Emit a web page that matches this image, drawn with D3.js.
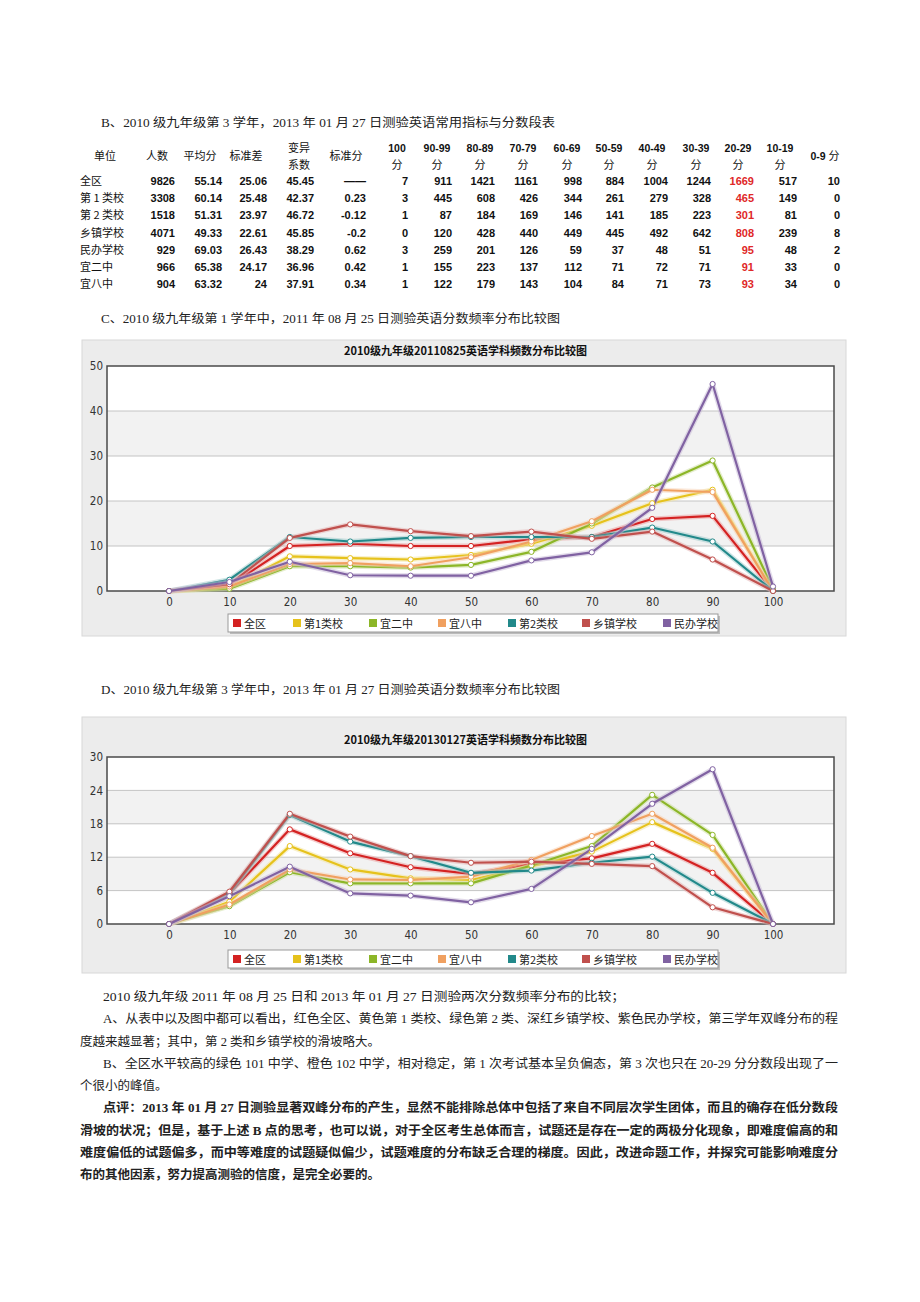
<!DOCTYPE html>
<html><head><meta charset="utf-8">
<script src="https://cdn.jsdelivr.net/npm/d3@7"></script>
<style>
html,body{margin:0;padding:0;background:#fff;}
svg{display:block;}
</style></head>
<body>
<script>
// ---------------- DATA ----------------
const tableHeadTop = ["单位","人数","平均分","标准差","变异","标准分","100","90-99","80-89","70-79","60-69","50-59","40-49","30-39","20-29","10-19","0-9 分"];
const tableHeadBottom = ["","","","","系数","","分","分","分","分","分","分","分","分","分","分",""];
const tableUnits = ["全区","第 1 类校","第 2 类校","乡镇学校","民办学校","宜二中","宜八中"];
const rowQuanqu   = ["9826","55.14","25.06","45.45","——","7","911","1421","1161","998","884","1004","1244","1669","517","10"];
const rowLei1     = ["3308","60.14","25.48","42.37","0.23","3","445","608","426","344","261","279","328","465","149","0"];
const rowLei2     = ["1518","51.31","23.97","46.72","-0.12","1","87","184","169","146","141","185","223","301","81","0"];
const rowXiangzhen= ["4071","49.33","22.61","45.85","-0.2","0","120","428","440","449","445","492","642","808","239","8"];
const rowMinban   = ["929","69.03","26.43","38.29","0.62","3","259","201","126","59","37","48","51","95","48","2"];
const rowYi2      = ["966","65.38","24.17","36.96","0.42","1","155","223","137","112","71","72","71","91","33","0"];
const rowYi8      = ["904","63.32","24","37.91","0.34","1","122","179","143","104","84","71","73","93","34","0"];

const scores = [0,10,20,30,40,50,60,70,80,90,100];
const seriesNames = ["全区","第1类校","宜二中","宜八中","第2类校","乡镇学校","民办学校"];
const seriesColors = ["#d42222","#e6c21c","#8cb628","#f0a060","#22898a","#c0504d","#8062a2"];

// chart 1: 20110825
const c1Quanqu    = [0,1.2,10,10.5,10,10,11.5,12,16,16.7,0];
const c1Lei1      = [0,0.8,7.7,7.3,7,8,10.5,14.5,19.5,22.5,0];
const c1Yi2       = [0,0.5,5.5,5.5,5.2,5.8,8.7,15,23,29,0.5];
const c1Yi8       = [0,1,6,6.2,5.5,7.5,11,15.5,22.5,22,0];
const c1Lei2      = [0,2.5,12,11,11.8,12,12,12,14.1,11,0];
const c1Xiangzhen = [0,1.5,11.8,14.8,13.3,12.2,13.2,11.6,13.2,7,0];
const c1Minban    = [0,2,6.5,3.5,3.4,3.4,6.8,8.6,18.5,46,1];
const c1Ticks = [0,10,20,30,40,50];

// chart 2: 20130127
const c2Quanqu    = [0,5.5,17,12.7,10.2,9,10.8,11.8,14.4,9.2,0];
const c2Lei1      = [0,4,14,9.8,8.2,7.9,10.4,13,18.3,13.5,0];
const c2Yi2       = [0,3.2,9.3,7.3,7.3,7.3,10.5,14,23.2,16,0];
const c2Yi8       = [0,3.5,9.8,8,7.9,8.5,11.5,15.8,19.8,13.7,0];
const c2Lei2      = [0,5.5,19.6,14.8,12.2,9.2,9.6,11,12.1,5.6,0];
const c2Xiangzhen = [0,5.8,19.8,15.7,12.2,11,11.2,10.8,10.4,3,0];
const c2Minban    = [0,5,10.3,5.5,5.1,3.9,6.3,13.5,21.6,27.8,0];
const c2Ticks = [0,6,12,18,24,30];

const chart1Title = "2010级九年级20110825英语学科频数分布比较图";
const chart2Title = "2010级九年级20130127英语学科频数分布比较图";

const headingB = "B、2010 级九年级第 3 学年，2013 年 01 月 27 日测验英语常用指标与分数段表";
const headingC = "C、2010 级九年级第 1 学年中，2011 年 08 月 25 日测验英语分数频率分布比较图";
const headingD = "D、2010 级九年级第 3 学年中，2013 年 01 月 27 日测验英语分数频率分布比较图";
const paraLines = [
  "2010 级九年级 2011 年 08 月 25 日和 2013 年 01 月 27 日测验两次分数频率分布的比较；",
  "A、从表中以及图中都可以看出，红色全区、黄色第 1 类校、绿色第 2 类、深红乡镇学校、紫色民办学校，第三学年双峰分布的程",
  "度越来越显著；其中，第 2 类和乡镇学校的滑坡略大。",
  "B、全区水平较高的绿色 101 中学、橙色 102 中学，相对稳定，第 1 次考试基本呈负偏态，第 3 次也只在 20-29 分分数段出现了一",
  "个很小的峰值。",
  "点评：2013 年 01 月 27 日测验显著双峰分布的产生，显然不能排除总体中包括了来自不同层次学生团体，而且的确存在低分数段",
  "滑坡的状况；但是，基于上述 B 点的思考，也可以说，对于全区考生总体而言，试题还是存在一定的两极分化现象，即难度偏高的和",
  "难度偏低的试题偏多，而中等难度的试题疑似偏少，试题难度的分布缺乏合理的梯度。因此，改进命题工作，并探究可能影响难度分",
  "布的其他因素，努力提高测验的信度，是完全必要的。"
];

// ---------------- DRAW ----------------
const W = 920, H = 1302;
const svg = d3.select("body").append("svg").attr("width", W).attr("height", H);
svg.append("rect").attr("width", W).attr("height", H).attr("fill", "#fff");

const serif = "'Liberation Serif','Noto Sans CJK SC',serif";
const cjk = "'Noto Sans CJK SC','Liberation Sans',sans-serif";
const bold = "'Liberation Sans',Arial,sans-serif";
const narrow = "'Liberation Sans Narrow','Arial Narrow','DejaVu Sans Condensed',sans-serif";

function heading(txt, x, y, len) {
  svg.append("text").attr("x", x).attr("y", y).attr("font-family", serif)
    .attr("font-size", 12).attr("fill", "#222")
    .attr("textLength", len).attr("lengthAdjust", "spacingAndGlyphs").text(txt);
}
heading(headingB, 101, 127, 454);
heading(headingC, 101, 323, 459);
heading(headingD, 101, 694, 459);

// ---- table ----
const colIdx = d3.range(tableHeadTop.length);
const colCenter = d3.scaleOrdinal().domain(colIdx)
  .range([105,157,200,246,299,346,397,437,480,523,567,609,652,696,738,780,825]);
const colRight = d3.scaleOrdinal().domain(colIdx)
  .range([80,175,222,267,314,366,408,452,495,538,582,624,668,711,754,797,840]);
const rows = [rowQuanqu,rowLei1,rowLei2,rowXiangzhen,rowMinban,rowYi2,rowYi8];
const rowY = d3.scalePoint().domain(tableUnits).range([185, 288]);

const thead = svg.append("g");
colIdx.forEach(i => {
  const top = tableHeadTop[i], bot = tableHeadBottom[i];
  const isNum = /^[0-9]/.test(top);
  const fam = isNum ? bold : cjk;
  if (bot) {
    thead.append("text").attr("x", colCenter(i)).attr("y", 152).attr("text-anchor", "middle")
      .attr("font-family", fam).attr("font-weight", isNum ? "bold" : "normal")
      .attr("font-size", isNum ? 10.5 : 11).attr("fill", "#111").text(top);
    thead.append("text").attr("x", colCenter(i)).attr("y", 169).attr("text-anchor", "middle")
      .attr("font-family", cjk).attr("font-size", 11).attr("fill", "#111").text(bot);
  } else {
    const t = thead.append("text").attr("x", colCenter(i)).attr("y", 160).attr("text-anchor", "middle")
      .attr("font-family", cjk).attr("font-size", 11).attr("fill", "#111");
    if (isNum) {
      const m = top.split(" ");
      t.append("tspan").attr("font-family", bold).attr("font-weight", "bold").attr("font-size", 10.5).text(m[0] + " ");
      t.append("tspan").text(m[1]);
    } else t.text(top);
  }
});
const tbody = svg.append("g");
tableUnits.forEach((u, r) => {
  tbody.append("text").attr("x", colRight(0)).attr("y", rowY(u))
    .attr("font-family", cjk).attr("font-size", 11).attr("fill", "#111").text(u);
  rows[r].forEach((v, j) => {
    const i = j + 1;
    tbody.append("text").attr("x", colRight(i)).attr("y", rowY(u)).attr("text-anchor", "end")
      .attr("font-family", bold).attr("font-weight", "bold").attr("font-size", 11)
      .attr("fill", i === 14 ? "#e02828" : "#111").text(v);
  });
});

// ---- charts ----
function drawChart(opts) {
  const g = svg.append("g");
  const {bx, by, bw, bh, pTop, pBot, pLeft, pRight, ticks, series, title, titleY, legY} = opts;
  g.append("rect").attr("x", bx).attr("y", by).attr("width", bw).attr("height", bh)
    .attr("fill", "#ececec").attr("stroke", "#d8d8d8");
  g.append("text").attr("x", (pLeft + pRight) / 2 - 5).attr("y", titleY).attr("text-anchor", "middle")
    .attr("font-family", cjk).attr("font-weight", "bold").attr("font-size", 11).attr("fill", "#111").text(title);

  const x = d3.scaleLinear().domain([0, 100]).range([169, 773]);
  const y = d3.scaleLinear().domain([0, d3.max(ticks)]).range([pBot, pTop]);

  g.append("rect").attr("x", pLeft).attr("y", pTop).attr("width", pRight - pLeft).attr("height", pBot - pTop).attr("fill", "#fff");
  for (let k = 0; k < ticks.length - 1; k++) {
    if (k % 2 === 1) {
      g.append("rect").attr("x", pLeft).attr("width", pRight - pLeft)
        .attr("y", y(ticks[k + 1])).attr("height", y(ticks[k]) - y(ticks[k + 1])).attr("fill", "#f2f2f2");
    }
  }
  g.selectAll(".grid").data(ticks.slice(1, -1)).enter().append("line")
    .attr("x1", pLeft).attr("x2", pRight).attr("y1", d => y(d)).attr("y2", d => y(d))
    .attr("stroke", "#c4c4c4").attr("stroke-width", 1);
  g.append("rect").attr("x", pLeft).attr("y", pTop).attr("width", pRight - pLeft).attr("height", pBot - pTop)
    .attr("fill", "none").attr("stroke", "#4a4a4a").attr("stroke-width", 1.5);

  const ya = g.append("g").attr("transform", `translate(${pLeft},0)`)
    .call(d3.axisLeft(y).tickValues(ticks).tickSize(0).tickPadding(4));
  ya.select(".domain").remove();
  ya.selectAll("text").attr("font-family", narrow).attr("font-size", 11.5).attr("fill", "#333");
  const xa = g.append("g").attr("transform", `translate(0,${pBot})`)
    .call(d3.axisBottom(x).tickValues(scores).tickSize(0).tickPadding(7));
  xa.select(".domain").remove();
  xa.selectAll("text").attr("font-family", narrow).attr("font-size", 11.5).attr("fill", "#333");

  const line = d3.line().x((d, i) => x(scores[i])).y(d => y(d));
  series.forEach((s, i) => {
    const c = seriesColors[i];
    g.append("path").datum(s).attr("d", line).attr("fill", "none")
      .attr("stroke", d3.interpolateRgb(c, "#fff")(0.55)).attr("stroke-width", 5).attr("stroke-opacity", 0.5)
      .attr("stroke-linejoin", "round");
    g.append("path").datum(s).attr("d", line).attr("fill", "none")
      .attr("stroke", c).attr("stroke-width", 2.2).attr("stroke-linejoin", "round");
  });
  series.forEach((s, i) => {
    g.selectAll(null).data(s).enter().append("circle")
      .attr("cx", (d, k) => x(scores[k])).attr("cy", d => y(d)).attr("r", 2.6)
      .attr("fill", "#fff").attr("stroke", seriesColors[i]).attr("stroke-width", 1);
  });

  const lx = 228, lw = 490, lh = 18;
  g.append("rect").attr("x", lx + 2).attr("y", legY + 2).attr("width", lw).attr("height", lh).attr("fill", "#bbb");
  g.append("rect").attr("x", lx).attr("y", legY).attr("width", lw).attr("height", lh)
    .attr("fill", "#fff").attr("stroke", "#999");
  const legX = d3.scaleOrdinal().domain(seriesNames).range([233, 293, 369, 438, 508, 582, 663]);
  seriesNames.forEach((n, i) => {
    g.append("rect").attr("x", legX(n)).attr("y", legY + 5).attr("width", 8).attr("height", 8).attr("fill", seriesColors[i]);
    g.append("text").attr("x", legX(n) + 11).attr("y", legY + 13.5)
      .attr("font-family", cjk).attr("font-size", 11).attr("fill", "#222").text(n);
  });
}

drawChart({bx: 82, by: 340, bw: 764, bh: 296, pTop: 366, pBot: 591, pLeft: 107, pRight: 834,
  ticks: c1Ticks, series: [c1Quanqu, c1Lei1, c1Yi2, c1Yi8, c1Lei2, c1Xiangzhen, c1Minban],
  title: chart1Title, titleY: 355, legY: 614});
drawChart({bx: 82, by: 717, bw: 764, bh: 256, pTop: 757, pBot: 924, pLeft: 107, pRight: 834,
  ticks: c2Ticks, series: [c2Quanqu, c2Lei1, c2Yi2, c2Yi8, c2Lei2, c2Xiangzhen, c2Minban],
  title: chart2Title, titleY: 744, legY: 950});

// ---- paragraphs ----
const paraY = d3.scalePoint().domain(d3.range(paraLines.length)).range([1001, 1179]);
const paraX = [103, 103, 80, 103, 80, 103, 80, 80, 80];
const paraLen = [522, 735, null, 735, null, 735, 758, 758, null];
paraLines.forEach((t, i) => {
  const el = svg.append("text").attr("x", paraX[i]).attr("y", paraY(i))
    .attr("font-family", serif).attr("font-size", 12.5).attr("fill", "#222")
    .attr("font-weight", i >= 5 ? "bold" : "normal").text(t);
  if (paraLen[i]) el.attr("textLength", paraLen[i]).attr("lengthAdjust", "spacingAndGlyphs");
});
</script>
</body></html>
